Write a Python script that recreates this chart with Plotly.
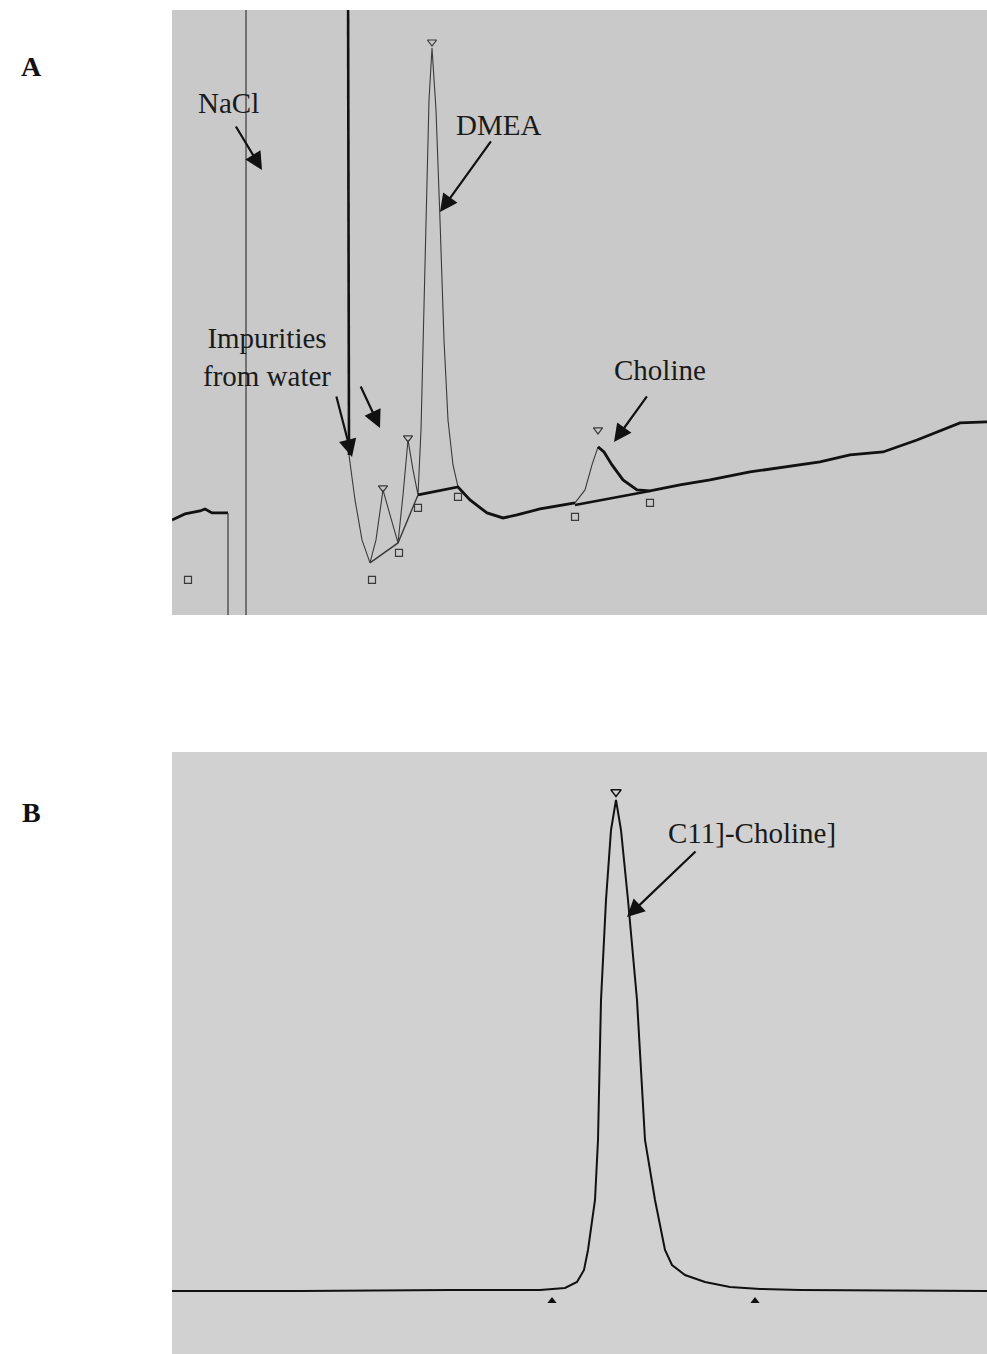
import plotly.graph_objects as go

# ---------------- Panel A data (time in min, detector signal in a.u.) ----------------
a_lead_t = [0.0, 0.26, 0.56, 0.66, 0.8, 1.12]
a_lead_s = [9.5, 10.1, 10.4, 10.6, 10.2, 10.2]

# off-scale excursions (NaCl front): below then above the visible window
a_drop_t = [1.12, 1.12, 1.48, 1.48, 3.52]
a_drop_s = [10.2, -3.0, -3.0, 65.0, 65.0]

a_front_t = [3.52, 3.54]
a_front_s = [65.0, 16.0]

# thin (integrated peaks) section
a_peaks_t = [3.54, 3.66, 3.8, 3.96, 4.08, 4.22, 4.36, 4.52, 4.62, 4.72, 4.82, 4.92,
             4.98, 5.06, 5.14, 5.2, 5.28, 5.36, 5.44, 5.52, 5.62, 5.72]
a_peaks_s = [16.0, 11.5, 7.5, 5.2, 7.5, 12.5, 10.0, 7.2, 12.0, 17.5, 14.5, 12.0,
             18.5, 36.5, 51.5, 56.7, 50.5, 39.5, 27.5, 19.5, 15.0, 12.8]

# thick trace after DMEA
a_tail_t = [4.92, 5.72, 5.96, 6.3, 6.62, 6.9, 7.36, 7.82, 8.06]
a_tail_s = [12.0, 12.8, 11.5, 10.2, 9.7, 10.0, 10.6, 11.0, 11.2]

a_chol_rise_t = [8.06, 8.26, 8.4, 8.52]
a_chol_rise_s = [11.2, 12.5, 15.0, 16.8]

a_end_t = [8.52, 8.64, 8.8, 9.02, 9.3, 9.56, 10.16, 10.76, 11.56, 12.16, 12.96,
           13.56, 14.22, 14.9, 15.56, 15.76, 16.3]
a_end_s = [16.8, 16.3, 15.0, 13.5, 12.5, 12.4, 13.0, 13.5, 14.3, 14.7, 15.3,
           16.0, 16.3, 17.5, 18.8, 19.2, 19.3]

# integration baselines
a_base1_t = [3.96, 4.52, 4.92]
a_base1_s = [5.2, 7.2, 12.0]
a_base2_t = [8.06, 9.56]
a_base2_s = [11.0, 12.4]

# peak markers
a_top_t = [4.22, 4.72, 5.2, 8.52]
a_top_s = [12.7, 17.7, 57.3, 18.5]
a_foot_t = [0.32, 4.0, 4.54, 4.92, 5.72, 8.06, 9.56]
a_foot_s = [3.5, 3.5, 6.2, 10.7, 11.8, 9.8, 11.2]

# ---------------- Panel B data ----------------
b_t = [0.0, 2.56, 5.56, 7.36, 7.86, 8.1, 8.24, 8.32, 8.46, 8.52, 8.58, 8.68, 8.78,
       8.88, 8.98, 9.12, 9.3, 9.46, 9.66, 9.86, 10.0, 10.26, 10.66, 11.16, 11.76,
       12.56, 16.3]
b_s = [6.3, 6.3, 6.4, 6.4, 6.6, 7.2, 8.4, 10.4, 15.4, 21.4, 35.4, 45.4, 52.4,
       55.4, 52.4, 45.4, 35.4, 21.4, 15.4, 10.4, 8.9, 7.9, 7.2, 6.7, 6.5,
       6.4, 6.3]
b_top_t = [8.88]
b_top_s = [56.2]
b_foot_t = [7.6, 11.66]
b_foot_s = [5.3, 5.3]

A_BG = "#c9c9c9"
B_BG = "#d1d1d1"
INK = "#111111"
THIN = "#3a3a3a"

fig = go.Figure()

def line(t, s, w, color, xa, ya, dash="solid"):
    fig.add_trace(go.Scatter(x=t, y=s, mode="lines", xaxis=xa, yaxis=ya,
                             line=dict(color=color, width=w, dash=dash),
                             hoverinfo="skip", showlegend=False))

# Panel A
line(a_lead_t, a_lead_s, 2.8, INK, "x", "y")
line(a_drop_t, a_drop_s, 1.2, THIN, "x", "y")
line(a_front_t, a_front_s, 2.6, INK, "x", "y")
line(a_peaks_t, a_peaks_s, 1.1, THIN, "x", "y")
line(a_base1_t, a_base1_s, 1.4, THIN, "x", "y")
line(a_tail_t, a_tail_s, 2.8, INK, "x", "y")
line(a_chol_rise_t, a_chol_rise_s, 1.1, THIN, "x", "y")
line(a_base2_t, a_base2_s, 2.4, INK, "x", "y")
line(a_end_t, a_end_s, 2.8, INK, "x", "y")

fig.add_trace(go.Scatter(x=a_top_t, y=a_top_s, mode="markers", xaxis="x", yaxis="y",
                         marker=dict(symbol="triangle-down-open", size=8,
                                     color=THIN, line=dict(width=1.2)),
                         hoverinfo="skip", showlegend=False))
fig.add_trace(go.Scatter(x=a_foot_t, y=a_foot_s, mode="markers", xaxis="x", yaxis="y",
                         marker=dict(symbol="square-open", size=7,
                                     color=THIN, line=dict(width=1.2)),
                         hoverinfo="skip", showlegend=False))

# Panel B
line(b_t, b_s, 2.0, INK, "x2", "y2")
fig.add_trace(go.Scatter(x=b_top_t, y=b_top_s, mode="markers", xaxis="x2", yaxis="y2",
                         marker=dict(symbol="triangle-down-open", size=9,
                                     color=INK, line=dict(width=1.4)),
                         hoverinfo="skip", showlegend=False))
fig.add_trace(go.Scatter(x=b_foot_t, y=b_foot_s, mode="markers", xaxis="x2", yaxis="y2",
                         marker=dict(symbol="triangle-up", size=8, color=INK),
                         hoverinfo="skip", showlegend=False))

FONT = "Liberation Serif"
TXT = dict(family=FONT, size=29, color="#1a1a1a")

ann = []
def label(x, y, text, xr, yr):
    ann.append(dict(x=x, y=y, xref=xr, yref=yr, text=text, showarrow=False,
                    font=TXT, xanchor="center", yanchor="middle"))

def arrow(x, y, ax, ay, xr, yr):
    ann.append(dict(x=x, y=y, xref=xr, yref=yr, ax=ax, ay=ay, text="",
                    showarrow=True, arrowhead=2, arrowsize=1.6, arrowwidth=2.2,
                    arrowcolor="#111111"))

# Panel A annotations
label(1.12, 51.2, "NaCl", "x", "y")
arrow(1.8, 44.5, -27, -45, "x", "y")
label(6.52, 49.0, "DMEA", "x", "y")
arrow(5.36, 40.3, 52, -72, "x", "y")
label(1.9, 25.8, "Impurities<br>from water", "x", "y")
arrow(3.6, 15.8, -16, -62, "x", "y")
arrow(4.16, 18.7, -20, -43, "x", "y")
label(9.76, 24.5, "Choline", "x", "y")
arrow(8.84, 17.3, 34, -47, "x", "y")

# Panel B annotations
label(11.6, 52.1, "C11]-Choline]", "x2", "y2")
arrow(9.1, 43.7, 70, -67, "x2", "y2")

# Panel letters
ann.append(dict(x=-0.173, y=0.958, xref="paper", yref="paper", text="<b>A</b>",
                showarrow=False, font=dict(family=FONT, size=28, color="#111"),
                xanchor="center", yanchor="middle"))
ann.append(dict(x=-0.173, y=0.403, xref="paper", yref="paper", text="<b>B</b>",
                showarrow=False, font=dict(family=FONT, size=28, color="#111"),
                xanchor="center", yanchor="middle"))

ax_common = dict(showgrid=False, zeroline=False, showticklabels=False, ticks="",
                 showline=False, fixedrange=True)

fig.update_layout(
    width=987, height=1354,
    margin=dict(l=172, r=0, t=10, b=0),
    paper_bgcolor="white",
    plot_bgcolor="white",
    annotations=ann,
    xaxis=dict(domain=[0, 1], range=[0, 16.3], anchor="y", **ax_common),
    yaxis=dict(domain=[0.5499, 1.0], range=[0, 60.5], anchor="x", **ax_common),
    xaxis2=dict(domain=[0, 1], range=[0, 16.3], anchor="y2", **ax_common),
    yaxis2=dict(domain=[0.0, 0.4479], range=[0, 60.2], anchor="x2", **ax_common),
    shapes=[
        dict(type="rect", xref="x domain", yref="y domain", x0=0, x1=1, y0=0, y1=1,
             fillcolor=A_BG, line=dict(width=0), layer="below"),
        dict(type="rect", xref="x2 domain", yref="y2 domain", x0=0, x1=1, y0=0, y1=1,
             fillcolor=B_BG, line=dict(width=0), layer="below"),
    ],
    showlegend=False,
)

fig.write_html("out.html", config={"displayModeBar": False},
               post_script="document.body.style.margin='0px';document.body.style.overflow='hidden';")
